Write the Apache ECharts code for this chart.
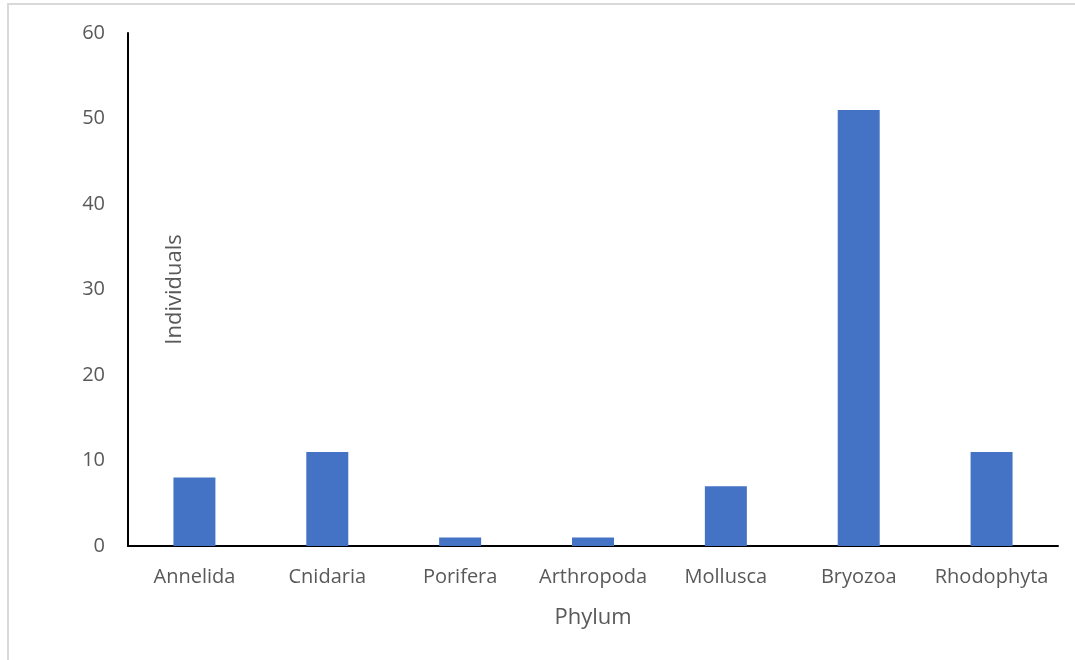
<!DOCTYPE html>
<html>
<head>
<meta charset="utf-8">
<script src="https://cdn.jsdelivr.net/npm/echarts@6/dist/echarts.min.js"></script>
<style>
  html, body { margin: 0; padding: 0; background: #fff; }
  #chart { width: 1075px; height: 660px; }
</style>
</head>
<body>
<div id="chart"></div>
<script>
// Counts of individuals recorded per phylum
const phyla = ['Annelida', 'Cnidaria', 'Porifera', 'Arthropoda', 'Mollusca', 'Bryozoa', 'Rhodophyta'];
const individuals = [8, 11, 1, 1, 7, 51, 11];
const yTicks = { min: 0, max: 60, interval: 10 };

const textColor = '#595959';
const font = '"Open Sans", "Noto Sans", sans-serif';

const chart = echarts.init(document.getElementById('chart'), null, { renderer: 'canvas' });
chart.setOption({
  animation: false,
  backgroundColor: '#ffffff',
  graphic: [{
    type: 'rect',
    shape: { x: 8, y: 4, width: 1100, height: 700 },
    style: { fill: 'none', stroke: '#d9d9d9', lineWidth: 2 },
    silent: true
  }],
  grid: { left: 128, top: 33, right: 17, bottom: 114, containLabel: false },
  xAxis: {
    type: 'category',
    data: phyla,
    name: 'Phylum',
    nameLocation: 'middle',
    nameGap: 61,
    nameTextStyle: { color: textColor, fontSize: 22, fontFamily: font },
    axisLine: { lineStyle: { color: '#000', width: 2 } },
    axisTick: { show: false },
    axisLabel: { color: textColor, fontSize: 20, fontFamily: font, margin: 21, interval: 0 },
    splitLine: { show: false }
  },
  yAxis: {
    type: 'value',
    min: yTicks.min,
    max: yTicks.max,
    interval: yTicks.interval,
    name: 'Individuals',
    nameLocation: 'middle',
    nameRotate: 90,
    nameGap: -58,
    nameTextStyle: { color: textColor, fontSize: 22, fontFamily: font },
    axisLine: { show: true, lineStyle: { color: '#000', width: 2 } },
    axisTick: { show: false },
    axisLabel: { color: textColor, fontSize: 20, fontFamily: font, margin: 23 },
    splitLine: { show: false }
  },
  series: [{
    type: 'bar',
    data: individuals,
    barWidth: '31.6%',
    itemStyle: { color: '#4472C4' }
  }]
});
</script>
</body>
</html>
